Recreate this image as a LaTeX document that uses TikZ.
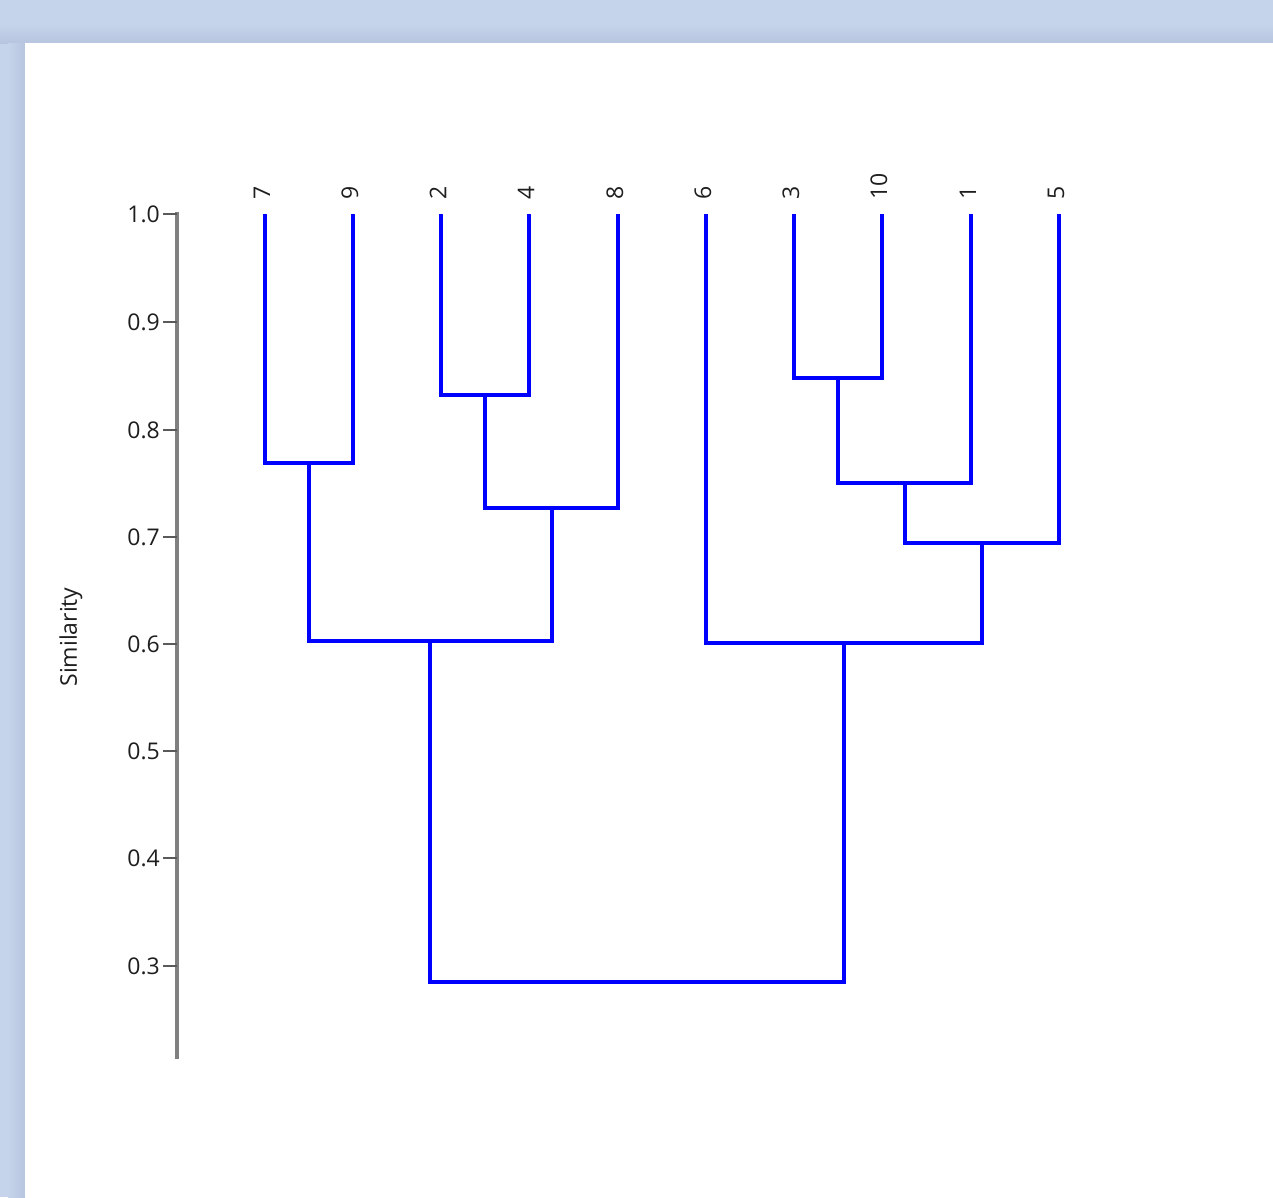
\documentclass[tikz,border=0pt]{standalone}
\usepackage{fontspec}
\setmainfont{Open Sans}
\definecolor{frameblue}{RGB}{197,211,235}
\definecolor{frameedge}{RGB}{183,197,222}
\definecolor{treeblue}{RGB}{0,0,255}
\definecolor{axisgray}{RGB}{128,128,128}
\definecolor{txt}{RGB}{30,30,30}
\tikzset{
  branch/.style={draw=treeblue, line width=3.6pt, line join=miter},
  axisline/.style={draw=axisgray, line width=3.4pt},
  tickline/.style={draw=axisgray!70!black, line width=2pt},
  ticklabel/.style={anchor=east, inner sep=0pt, text=txt, font=\fontsize{23}{27}\selectfont},
  leaflabel/.style={anchor=west, rotate=90, inner sep=0pt, text=txt, font=\fontsize{23}{27}\selectfont},
}
\begin{document}
\begin{tikzpicture}[x=1pt,y=-1pt]
\useasboundingbox (0,0) rectangle (1273,1197);
% window frame
\fill[frameblue] (0,0) rectangle (1273,1197);
\shade[top color=frameblue, bottom color=frameedge] (0,24) rectangle (1273,43);
\shade[left color=frameblue, right color=frameedge] (8,43) rectangle (25,1197);
\fill[white] (25,43) rectangle (1273,1197);

% axis
\coordinate (axtop) at (177,212);
\coordinate (axbot) at (177,1059);
\draw[axisline] (axtop) -- (axbot);
\foreach \v/\yy/\k in {1.0/214/a,0.9/322/b,0.8/430/c,0.7/537/d,0.6/644/e,0.5/751/f,0.4/858/g,0.3/966/h}{
  \coordinate (t\k) at (177,\yy);
  \coordinate (tl\k) at (163,\yy);
  \draw[tickline] (tl\k) -- (t\k);
  \node[ticklabel] (lab\k) at (160,\yy) {\v};
}
\node[rotate=90, text=txt, font=\fontsize{23}{27}\selectfont, inner sep=0pt] (ylab) at (71,637) {Similarity};

% leaves
\foreach \n/\xx in {7/265,9/353,2/441,4/529,8/618,6/706,3/794,10/882,1/971,5/1059}{
  \coordinate (l\n) at (\xx,214);
  \node[leaflabel] (name\n) at (\xx-3,200) {\n};
}

% merge points
\coordinate (m79) at (309,463);
\coordinate (m24) at (485,395);
\coordinate (m248) at (552,508);
\coordinate (mA) at (430,641);
\coordinate (m310) at (838,378);
\coordinate (m3101) at (905,483);
\coordinate (m31015) at (982,543);
\coordinate (mB) at (844,643);
\coordinate (root) at (637,982);

\draw[branch] (l7) |- (m79) -| (l9);
\draw[branch] (l2) |- (m24) -| (l4);
\draw[branch] (m24) |- (m248) -| (l8);
\draw[branch] (m79) |- (mA) -| (m248);
\draw[branch] (l3) |- (m310) -| (l10);
\draw[branch] (m310) |- (m3101) -| (l1);
\draw[branch] (m3101) |- (m31015) -| (l5);
\draw[branch] (l6) |- (mB) -| (m31015);
\draw[branch] (mA) |- (root) -| (mB);
\end{tikzpicture}
\end{document}
